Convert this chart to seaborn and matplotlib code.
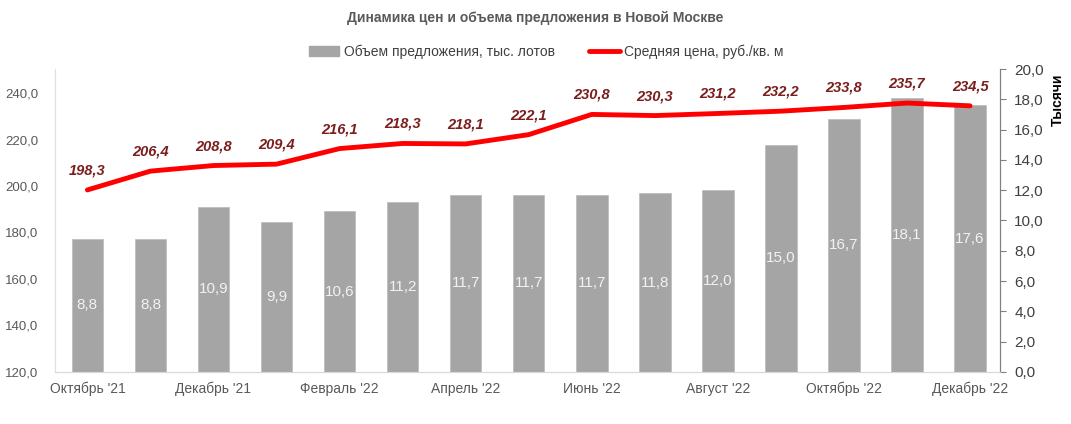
import numpy as np
import pandas as pd
import matplotlib
matplotlib.use("Agg")
import matplotlib.pyplot as plt
import seaborn as sns
from matplotlib.patches import Patch
from matplotlib.lines import Line2D

sns.set_style("white")
plt.rcParams['font.family'] = ['Liberation Sans', 'DejaVu Sans']

# data
months = ["Октябрь '21", "Ноябрь '21", "Декабрь '21", "Январь '22", "Февраль '22",
          "Март '22", "Апрель '22", "Май '22", "Июнь '22", "Июль '22", "Август '22",
          "Сентябрь '22", "Октябрь '22", "Ноябрь '22", "Декабрь '22"]
supply = [8.8, 8.8, 10.9, 9.9, 10.6, 11.2, 11.7, 11.7, 11.7, 11.8, 12.0, 15.0, 16.7, 18.1, 17.6]
price = [198.3, 206.4, 208.8, 209.4, 216.1, 218.3, 218.1, 222.1, 230.8, 230.3, 231.2,
         232.2, 233.8, 235.7, 234.5]

df = pd.DataFrame({"month": months, "supply": supply, "price": price, "pos": np.arange(len(months))})

def fmt(v):
    return f"{v:.1f}".replace(".", ",")

fig = plt.figure(figsize=(10.71, 4.24), dpi=100)
ax = fig.add_axes([0.051, 0.123, 0.883, 0.714])

# bars (right axis, thousands)
sns.barplot(data=df, x="month", y="supply", color="#A5A5A5", saturation=1, width=0.5,
            edgecolor="#BFBFBF", linewidth=0.6, ax=ax)
ax.set_ylim(0, 20)
ax.set_xlim(-0.52, 14.48)
for i, v in enumerate(supply):
    ax.text(i, v / 2, fmt(v), ha="center", va="center", color="#F2F2F2", fontsize=11)

# x labels every second month
ax.set_xticks(np.arange(0, len(months), 2))
ax.set_xticklabels(months[::2])
ax.tick_params(axis="x", length=0, labelsize=10, labelcolor="#595959", pad=7)
ax.set_xlabel("")
ax.set_ylabel("")

# line (left axis, price)
ax2 = ax.twinx()
sns.lineplot(data=df, x="pos", y="price", color="#FF0000", linewidth=3.5, ax=ax2)
ax2.set_ylim(120, 250.3)
ax2.set_xlim(-0.52, 14.48)
ax2.set_xlabel("")
ax2.set_ylabel("")
for i, v in enumerate(price):
    ax2.annotate(fmt(v), (i, v), xytext=(0, 9), textcoords="offset points",
                 ha="center", va="bottom", color="#7B1E1E", fontsize=10.5,
                 fontweight="bold", fontstyle="italic")

# tick placement after twinx (twinx resets the host to the left)
ax.yaxis.tick_right()
ax.set_yticks(np.arange(0, 20.1, 2))
ax.set_yticklabels([fmt(v) for v in np.arange(0, 20.1, 2)])
ax.tick_params(axis="y", left=False, right=True, length=4, color="#808080", labelsize=11,
               labelcolor="#404040", pad=6)

ax2.yaxis.tick_left()
ax2.set_yticks(np.arange(120, 241, 20))
ax2.set_yticklabels([fmt(v) for v in np.arange(120, 241, 20)])
ax2.tick_params(axis="y", left=False, right=False, labelsize=9.5, labelcolor="#595959", pad=8)

for a in (ax, ax2):
    a.spines["top"].set_visible(False)
    a.spines["left"].set_color("#E0E0E0")
    a.spines["bottom"].set_color("#D9D9D9")
    a.spines["right"].set_color("#808080")

fig.text(0.5, 1 - 18 / 424, "Динамика цен и объема предложения в Новой Москве",
         ha="center", va="center", fontsize=10, fontweight="bold", color="#595959")
fig.text(1058 / 1071, 1 - 100 / 424, "Тысячи", rotation=90, ha="center", va="center",
         fontsize=10, fontweight="bold", color="#000000")

handles = [Patch(facecolor="#A5A5A5", edgecolor="#A5A5A5"),
           Line2D([0], [0], color="#FF0000", linewidth=3.5)]
fig.legend(handles, ["Объем предложения, тыс. лотов", "Средняя цена, руб./кв. м"],
           loc="center", bbox_to_anchor=(0.51, 1 - 52 / 424), ncol=2, frameon=False,
           fontsize=10, labelcolor="#404040", handlelength=2.2, handletextpad=0.3,
           columnspacing=2.5)

fig.savefig("out.png", dpi=100)
